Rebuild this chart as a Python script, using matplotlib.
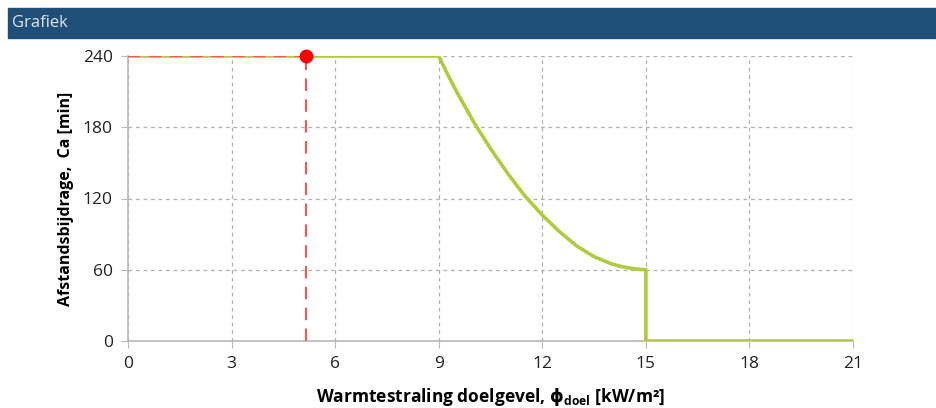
import matplotlib
matplotlib.use("Agg")
import matplotlib.pyplot as plt
from matplotlib.patches import Rectangle

plt.rcParams['font.family'] = ['Open Sans', 'DejaVu Sans']
plt.rcParams['mathtext.fontset'] = 'dejavusans'

# heat radiation on target facade [kW/m2] vs distance contribution Ca [min]
flux = [0, 3, 6, 9, 9.25, 9.5, 9.75, 10, 10.5, 11, 11.5, 12, 12.5, 13, 13.5,
        14, 14.25, 14.5, 14.75, 15, 15, 18, 21]
ca = [240, 240, 240, 240, 225, 211, 198, 185, 162, 141, 122, 106, 92, 80, 71,
      65, 63, 61.5, 60.5, 60, 0, 0, 0]

# current point
point_x = 5.15
point_y = 240

x_ticks = [0, 3, 6, 9, 12, 15, 18, 21]
y_ticks = [0, 60, 120, 180, 240]

fig = plt.figure(figsize=(9.36, 4.08), dpi=100)
fig.patches.append(Rectangle((8 / 936, 1 - 38 / 408), 928 / 936, 30 / 408,
                             transform=fig.transFigure, color='#1f4e79', zorder=0))
fig.text(12 / 936, 1 - 23 / 408, 'Grafiek', color='#dde6ef', fontsize=12,
         va='center', ha='left')

ax = fig.add_axes([128 / 936, 1 - 341 / 408, 725 / 936, 285 / 408])
ax.plot(flux, ca, color='#b0cc3c', lw=2.6, zorder=3, solid_joinstyle='round')
ax.plot([0, point_x], [point_y, point_y], color='#ff5252', lw=1.5,
        dashes=(6, 4), zorder=4)
ax.plot([point_x, point_x], [0, point_y], color='#ff5252', lw=1.5,
        dashes=(6, 4), zorder=4)
ax.plot([point_x], [point_y], 'o', color='#ff0000', ms=9, zorder=5, clip_on=False)

ax.set_xlim(0, 21)
ax.set_ylim(0, 240)
ax.set_xticks(x_ticks)
ax.set_yticks(y_ticks)
ax.grid(True, color='#b0b0b0', ls=(0, (3, 3)), lw=0.9)
ax.set_axisbelow(True)
for s in ['top', 'right']:
    ax.spines[s].set_visible(False)
for s in ['left', 'bottom']:
    ax.spines[s].set_color('#b8b8b8')
    ax.spines[s].set_linewidth(1.2)
ax.tick_params(colors='#222222', labelsize=12.5, length=5, color='#b8b8b8',
               pad=6)

ax.set_ylabel('Afstandsbijdrage,  Ca [min]', fontsize=11.5, fontweight='bold',
              labelpad=6)
ax.set_xlabel(r'Warmtestraling doelgevel, $\mathbf{\phi}_{\mathregular{doel}}$ [kW/m²]',
              fontsize=12.5, fontweight='bold', labelpad=10)

fig.savefig('out.png', dpi=100)
